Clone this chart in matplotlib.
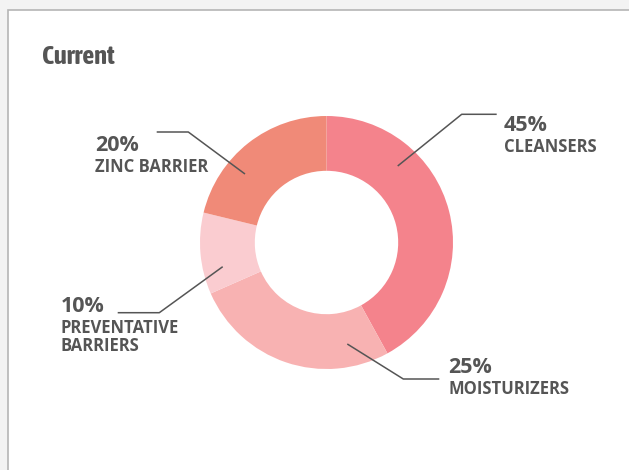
import matplotlib
matplotlib.use("Agg")
import matplotlib.pyplot as plt
from matplotlib.patches import Rectangle
from matplotlib import font_manager

categories = ["CLEANSERS", "MOISTURIZERS", "PREVENTATIVE\nBARRIERS", "ZINC BARRIER"]
values = [42.0, 26.4, 10.4, 21.2]
pct_labels = ["45%", "25%", "10%", "20%"]
colors = ["#F4838C", "#F8B2B2", "#FACCD0", "#F08A78"]
title = "Current"

W, H = 629, 470
fig = plt.figure(figsize=(W / 100, H / 100), dpi=100, facecolor="#f3f3f3")
ax = fig.add_axes([0, 0, 1, 1])

def Y(y):
    return H - y

entries = font_manager.fontManager.ttflist
named_cond = []
for f in entries:
    n = f.name
    w = f.weight if isinstance(f.weight, int) else 400
    if ("Condensed" in n or "Narrow" in n) and w >= 600 and \
            not any(k in n for k in ("Light", "Thin", "Medium", "Black")) and n not in named_cond:
        named_cond.append(n)

if named_cond:
    title_kw = dict(family=[named_cond[0], "DejaVu Sans"], fontsize=19)
else:
    title_kw = dict(family="DejaVu Sans", fontstretch="condensed", fontsize=14.5)
lab_font = "Open Sans"

cx, cy, R, r_in = 326.5, Y(242.5), 126.5, 71.7
ax.pie(values, colors=colors, startangle=90, counterclock=False,
       center=(cx, cy), radius=R, frame=True,
       wedgeprops=dict(width=R - r_in, linewidth=0))
ax.set_xlim(0, W)
ax.set_ylim(0, H)
ax.set_aspect("equal")
ax.axis("off")

# card
ax.add_patch(Rectangle((8, -20), W + 20, Y(10) + 20, facecolor="white",
                       edgecolor="#b5b5b5", linewidth=1.2, zorder=0))

tc = "#555555"
ax.text(42, Y(64.5), title, fontweight="bold", color=tc,
        va="baseline", ha="left", **title_kw)

# leader lines: start, elbow, end (pixel coords)
leaders = [
    [(397.7, 166), (461.7, 114.3), (496.7, 114.3)],
    [(347.3, 344), (403.3, 379), (439.3, 379)],
    [(222.7, 266.7), (159.3, 312.7), (117.7, 312.7)],
    [(245, 174), (188.3, 132), (156.7, 132)],
]
for pts in leaders:
    ax.plot([p[0] for p in pts], [Y(p[1]) for p in pts], color="#555555",
            lw=1.1, solid_capstyle="butt")

# label positions: x, baseline of pct, baseline of first category line
lab_pos = [(504, 131, 151.7), (448, 372.7, 394), (61, 311.7, 333.3), (95, 151, 171.7)]
for (x, yp, yc), pl, cat in zip(lab_pos, pct_labels, categories):
    ax.text(x, Y(yp), pl, fontsize=15.5, fontweight="bold", color=tc,
            family=lab_font, va="baseline", ha="left")
    for i, line in enumerate(cat.split("\n")):
        ax.text(x, Y(yc + i * 17.7), line, fontsize=12, fontweight="bold",
                color=tc, family=lab_font, va="baseline", ha="left")

fig.savefig("out.png", dpi=100, facecolor=fig.get_facecolor())
